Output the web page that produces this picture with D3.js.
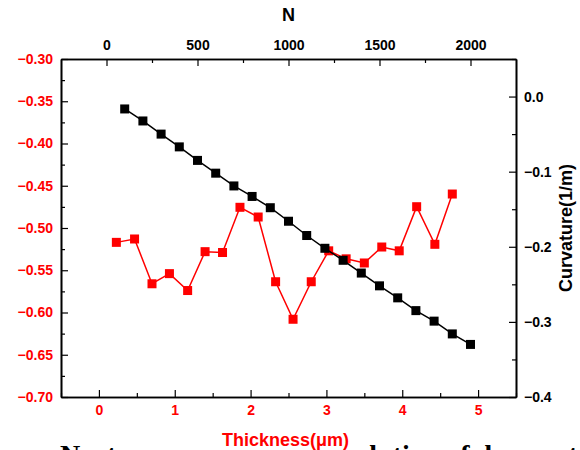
<!DOCTYPE html>
<html>
<head>
<meta charset="utf-8">
<script src="https://cdn.jsdelivr.net/npm/d3@7"></script>
<style>
  body { margin: 0; background: #fff; overflow: hidden; }
  svg text { font-family: "Liberation Sans", Arial, sans-serif; font-weight: bold; }
  .caption { font-family: "Liberation Serif", "Times New Roman", serif; }
</style>
</head>
<body>
<div id="chart"></div>
<script>
// black series: N (top axis) vs curvature (right axis)
const layerN = [100, 200, 300, 400, 500, 600, 700, 800, 900, 1000,
  1100, 1200, 1300, 1400, 1500, 1600, 1700, 1800, 1900, 2000];
const curvature = [-0.0165, -0.0325, -0.050, -0.067, -0.085, -0.102, -0.119, -0.133, -0.148, -0.166,
  -0.185, -0.202, -0.218, -0.235, -0.252, -0.268, -0.285, -0.299, -0.316, -0.330];

// red series: thickness (bottom axis) vs left axis
const thickness = [0.23, 0.47, 0.70, 0.93, 1.17, 1.40, 1.63, 1.86, 2.10, 2.33,
  2.56, 2.80, 3.03, 3.26, 3.50, 3.73, 3.96, 4.19, 4.43, 4.66];
const redValues = [-0.517, -0.513, -0.566, -0.554, -0.574, -0.528, -0.529, -0.4755, -0.487, -0.5636,
  -0.608, -0.5636, -0.527, -0.5365, -0.5414, -0.5225, -0.527, -0.4748, -0.5193, -0.4598];

const nTicks = [0, 500, 1000, 1500, 2000];
const thicknessTicks = [0, 1, 2, 3, 4, 5];
const leftTicks = [-0.30, -0.35, -0.40, -0.45, -0.50, -0.55, -0.60, -0.65, -0.70];
const rightTicks = [0.0, -0.1, -0.2, -0.3, -0.4];

class DualAxisChart {
  constructor(selector) {
    this.container = d3.select(selector);
  }

  defaultProps = {
    width: 580,
    height: 450,
    margin: { top: 59, right: 64, bottom: 53, left: 61 },
    red: '#ff0000',
    black: '#000000',
    marker: 9,
  };

  draw() {
    const props = this.defaultProps;
    const { margin } = props;
    const width = props.width - margin.left - margin.right;
    const height = props.height - margin.top - margin.bottom;

    const xBottom = d3.scaleLinear().domain([-0.5, 5.5]).range([0, width]);
    const xTop = d3.scaleLinear().domain([-250, 2250]).range([0, width]);
    const yLeft = d3.scaleLinear().domain([-0.70, -0.30]).range([height, 0]);
    const yRight = d3.scaleLinear().domain([-0.40, 0.05]).range([height, 0]);

    const svg = this.container.append('svg')
      .attr('width', props.width)
      .attr('height', props.height);

    // caption cut off by the bottom edge of the picture
    svg.append('text')
      .attr('class', 'caption')
      .attr('x', 60)
      .attr('y', 464)
      .style('font-size', '28px')
      .text('Next, we compare our evolution of demonstration');

    const plot = svg.append('g')
      .attr('class', 'plot')
      .attr('transform', `translate(${margin.left},${margin.top})`);

    // minor ticks first, then major axes with labels
    const minor = (axis, values) => axis.tickValues(values).tickSizeInner(-4).tickSizeOuter(0).tickFormat('');

    plot.append('g').attr('transform', `translate(0,${height})`)
      .call(minor(d3.axisBottom(xBottom), d3.range(-0.5, 5.6, 1)));
    plot.append('g')
      .call(minor(d3.axisTop(xTop), d3.range(250, 2250, 500)));
    plot.append('g')
      .call(minor(d3.axisLeft(yLeft), d3.range(-0.675, -0.3, 0.05)));
    plot.append('g').attr('transform', `translate(${width},0)`)
      .call(minor(d3.axisRight(yRight), d3.range(-0.35, 0.06, 0.1)));

    const xAxisBottom = plot.append('g')
      .attr('class', 'axis x-bottom')
      .attr('transform', `translate(0,${height})`)
      .call(d3.axisBottom(xBottom).tickValues(thicknessTicks).tickFormat(d3.format('d'))
        .tickSizeInner(-7).tickSizeOuter(0).tickPadding(8));

    plot.append('g')
      .attr('class', 'axis x-top')
      .call(d3.axisTop(xTop).tickValues(nTicks).tickFormat(d3.format('d'))
        .tickSizeInner(-7).tickSizeOuter(0).tickPadding(9));

    const yAxisLeft = plot.append('g')
      .attr('class', 'axis y-left')
      .call(d3.axisLeft(yLeft).tickValues(leftTicks).tickFormat(d3.format('.2f'))
        .tickSizeInner(-7).tickSizeOuter(0).tickPadding(8));

    plot.append('g')
      .attr('class', 'axis y-right')
      .attr('transform', `translate(${width},0)`)
      .call(d3.axisRight(yRight).tickValues(rightTicks).tickFormat(d3.format('.1f'))
        .tickSizeInner(-7).tickSizeOuter(0).tickPadding(8));

    plot.selectAll('.domain').attr('stroke', '#000').attr('stroke-width', 1.6);
    plot.selectAll('.tick line').attr('stroke', '#000').attr('stroke-width', 1.2);
    plot.selectAll('.tick text').style('font-size', '14px').attr('fill', '#000');

    xAxisBottom.selectAll('.tick text').attr('fill', props.red);
    yAxisLeft.selectAll('.tick text').attr('fill', props.red);

    // axis titles
    svg.append('text')
      .attr('x', margin.left + width / 2)
      .attr('y', 21)
      .attr('text-anchor', 'middle')
      .style('font-size', '18px')
      .text('N');

    svg.append('text')
      .attr('x', margin.left + width / 2 - 3)
      .attr('y', 446)
      .attr('text-anchor', 'middle')
      .attr('fill', props.red)
      .style('font-size', '18px')
      .text('Thickness(μm)');

    svg.append('text')
      .attr('transform', `translate(572,228) rotate(-90)`)
      .attr('text-anchor', 'middle')
      .style('font-size', '18px')
      .text('Curvature(1/m)');

    // red series
    const redData = thickness.map((t, i) => ({ x: t, y: redValues[i] }));
    const redLine = d3.line().x(d => xBottom(d.x)).y(d => yLeft(d.y));

    plot.append('path')
      .datum(redData)
      .attr('d', redLine)
      .attr('fill', 'none')
      .attr('stroke', props.red)
      .attr('stroke-width', 1.5);

    plot.selectAll('rect.red')
      .data(redData)
      .join('rect')
      .attr('class', 'red')
      .attr('x', d => xBottom(d.x) - props.marker / 2)
      .attr('y', d => yLeft(d.y) - props.marker / 2)
      .attr('width', props.marker)
      .attr('height', props.marker)
      .attr('fill', props.red);

    // black series
    const blackData = layerN.map((n, i) => ({ x: n, y: curvature[i] }));
    const blackLine = d3.line().x(d => xTop(d.x)).y(d => yRight(d.y));

    plot.append('path')
      .datum(blackData)
      .attr('d', blackLine)
      .attr('fill', 'none')
      .attr('stroke', props.black)
      .attr('stroke-width', 1.5);

    plot.selectAll('rect.black')
      .data(blackData)
      .join('rect')
      .attr('class', 'black')
      .attr('x', d => xTop(d.x) - props.marker / 2)
      .attr('y', d => yRight(d.y) - props.marker / 2)
      .attr('width', props.marker)
      .attr('height', props.marker)
      .attr('fill', props.black);

    return this;
  }
}

new DualAxisChart('#chart').draw();
</script>
</body>
</html>
